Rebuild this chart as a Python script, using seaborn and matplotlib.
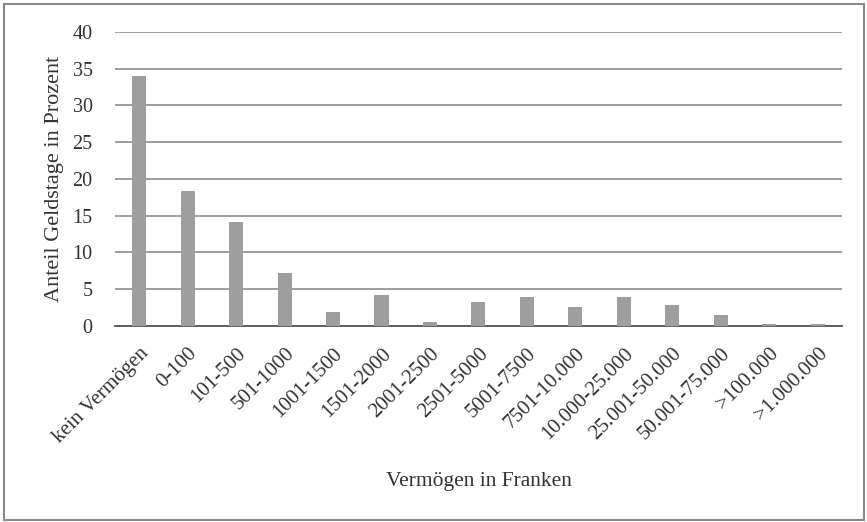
import pandas as pd
import matplotlib.pyplot as plt
import seaborn as sns
from matplotlib.patches import Rectangle

# DATA
categories = [
    "kein Vermögen", "0-100", "101-500", "501-1000", "1001-1500",
    "1501-2000", "2001-2500", "2501-5000", "5001-7500", "7501-10.000",
    "10.000-25.000", "25.001-50.000", "50.001-75.000", ">100.000", ">1.000.000",
]
shares = [34.0, 18.4, 14.1, 7.2, 1.9, 4.2, 0.55, 3.3, 3.9, 2.6, 3.9, 2.9, 1.5, 0.25, 0.25]
y_ticks = [0, 5, 10, 15, 20, 25, 30, 35, 40]

df = pd.DataFrame({"kategorie": categories, "anteil": shares})

sns.set_theme(style="white")
plt.rcParams["font.family"] = ["Liberation Serif", "DejaVu Serif"]

fig = plt.figure(figsize=(8.67, 5.22), dpi=100)
ax = fig.add_axes([0.1326, 0.3755, 0.8385, 0.5632])

sns.barplot(data=df, x="kategorie", y="anteil", color="#9e9e9e",
            saturation=1, width=0.29, linewidth=0, ax=ax, zorder=3)

ax.set_ylim(0, 40)
ax.set_yticks(y_ticks)
ax.yaxis.grid(True, color="#8c8c8c", linewidth=1.2, zorder=0)
ax.set_axisbelow(True)
for s in ["top", "right", "left"]:
    ax.spines[s].set_visible(False)
ax.spines["bottom"].set_color("#555555")
ax.spines["bottom"].set_linewidth(1.3)
ax.tick_params(axis="both", length=0, colors="#333333")
ax.tick_params(axis="y", labelsize=14.5, pad=16)
ax.tick_params(axis="x", labelsize=15, pad=13)
plt.setp(ax.get_xticklabels(), rotation=45, ha="right", rotation_mode="anchor")
ax.set_xlabel("Vermögen in Franken", fontsize=15.5, color="#333333", labelpad=18)
ax.set_ylabel("Anteil Geldstage in Prozent", fontsize=16, color="#333333")
ax.yaxis.set_label_coords(-0.07, 0.5)

# outer frame
fig.patches.append(Rectangle((0.005, 0.004), 0.992, 0.988, transform=fig.transFigure,
                             fill=False, edgecolor="#8a8a8a", linewidth=1.5))

fig.savefig("out.png", dpi=100)
